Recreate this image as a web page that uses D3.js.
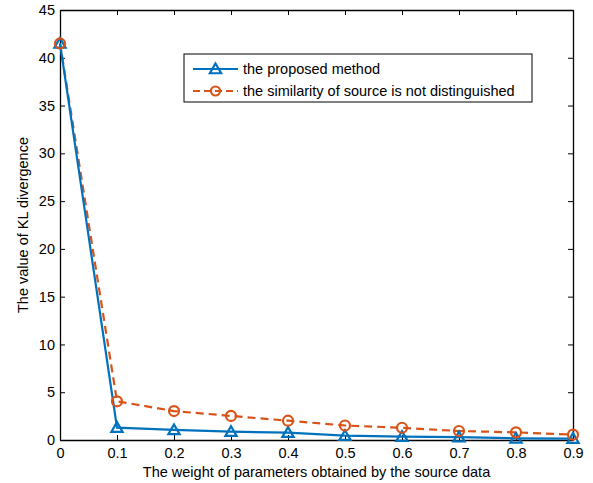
<!DOCTYPE html>
<html lang="en">
<head>
  <meta charset="utf-8">
  <title>KL divergence</title>
  <script src="https://cdn.jsdelivr.net/npm/d3@7"></script>
  <style type="text/css">
    body{ margin:0; background:#fff; }
    text{ font-family: "Liberation Sans", Arial, sans-serif; fill:#000; }
  </style>
</head>
<body>
  <script type="text/javascript">

    var width = 593;
    var height = 483;

    // data
    var weights = [0, 0.1, 0.2, 0.3, 0.4, 0.5, 0.6, 0.7, 0.8, 0.9];
    var proposed = [41.5, 1.3, 1.05, 0.87, 0.77, 0.45, 0.35, 0.3, 0.18, 0.15];
    var notDistinguished = [41.5, 4.05, 3.03, 2.52, 2.02, 1.52, 1.28, 0.94, 0.8, 0.56];
    var xTicks = [0, 0.1, 0.2, 0.3, 0.4, 0.5, 0.6, 0.7, 0.8, 0.9];
    var yTicks = [0, 5, 10, 15, 20, 25, 30, 35, 40, 45];
    var seriesNames = ["the proposed method", "the similarity of source is not distinguished"];

    // plot box (named so they don't clash with window.top)
    var plotLeft = 60, plotRight = 573, plotTop = 10, plotBottom = 440;
    var blue = "#0072BD", orange = "#D95319";

    var svg = d3.select("body")
            .append("svg")
            .attr("width", width)
            .attr("height", height);

    var xScale = d3.scaleLinear().domain([0, 0.9]).range([plotLeft, plotRight]);
    var yScale = d3.scaleLinear().domain([0, 45]).range([plotBottom, plotTop]);

    // axes with inward ticks, mirrored on top and right
    var tickLen = 5;
    svg.append("g")
        .attr("transform", "translate(0," + plotBottom + ")")
        .call(d3.axisBottom(xScale).tickValues(xTicks).tickSizeInner(-tickLen).tickSizeOuter(0).tickPadding(8)
            .tickFormat(function(d){ return d === 0 ? "0" : d3.format(".1f")(d); }))
        .call(styleAxis);
    svg.append("g")
        .attr("transform", "translate(" + plotLeft + ",0)")
        .call(d3.axisLeft(yScale).tickValues(yTicks).tickSizeInner(-tickLen).tickSizeOuter(0).tickPadding(5))
        .call(styleAxis);
    svg.append("g")
        .attr("transform", "translate(0," + plotTop + ")")
        .call(d3.axisTop(xScale).tickValues(xTicks).tickSizeInner(-tickLen).tickSizeOuter(0).tickFormat(""))
        .call(styleAxis);
    svg.append("g")
        .attr("transform", "translate(" + plotRight + ",0)")
        .call(d3.axisRight(yScale).tickValues(yTicks).tickSizeInner(-tickLen).tickSizeOuter(0).tickFormat(""))
        .call(styleAxis);

    function styleAxis(g){
        g.select(".domain").attr("stroke", "#000").attr("stroke-width", 1.3);
        g.selectAll(".tick line").attr("stroke", "#000").attr("stroke-width", 1);
        g.selectAll(".tick text").attr("font-size", 14.5).attr("fill", "#000")
            .attr("font-family", "Liberation Sans, Arial, sans-serif");
    }

    // axis titles
    svg.append("text")
        .attr("x", (plotLeft + plotRight) / 2)
        .attr("y", 477)
        .attr("text-anchor", "middle")
        .attr("font-size", 14.5)
        .text("The weight of parameters obtained by the source data");
    svg.append("text")
        .attr("transform", "translate(28," + ((plotTop + plotBottom) / 2) + ") rotate(-90)")
        .attr("text-anchor", "middle")
        .attr("font-size", 14.5)
        .text("The value of KL divergence");

    var line = d3.line()
        .x(function(d, i){ return xScale(weights[i]); })
        .y(function(d){ return yScale(d); });

    // orange dashed series
    svg.append("path")
        .datum(notDistinguished)
        .attr("d", line)
        .attr("fill", "none")
        .attr("stroke", orange)
        .attr("stroke-width", 2.2)
        .attr("stroke-dasharray", "8,5");
    // blue solid series
    svg.append("path")
        .datum(proposed)
        .attr("d", line)
        .attr("fill", "none")
        .attr("stroke", blue)
        .attr("stroke-width", 2.2);

    var tri = d3.symbol().type(d3.symbolTriangle).size(55);

    svg.selectAll(".tri")
        .data(proposed)
        .enter()
        .append("path")
        .attr("class", "tri")
        .attr("d", tri)
        .attr("transform", function(d, i){ return "translate(" + xScale(weights[i]) + "," + (yScale(d) + 1) + ")"; })
        .attr("fill", "none")
        .attr("stroke", blue)
        .attr("stroke-width", 2.2);

    svg.selectAll(".circ")
        .data(notDistinguished)
        .enter()
        .append("circle")
        .attr("class", "circ")
        .attr("cx", function(d, i){ return xScale(weights[i]); })
        .attr("cy", function(d){ return yScale(d); })
        .attr("r", 5)
        .attr("fill", "none")
        .attr("stroke", orange)
        .attr("stroke-width", 2.2);

    // legend
    var lg = svg.append("g");
    lg.append("rect")
        .attr("x", 184).attr("y", 54)
        .attr("width", 348).attr("height", 48)
        .attr("fill", "#fff")
        .attr("stroke", "#000")
        .attr("stroke-width", 1);
    lg.append("line")
        .attr("x1", 193).attr("x2", 238).attr("y1", 69).attr("y2", 69)
        .attr("stroke", blue).attr("stroke-width", 2.2);
    lg.append("path")
        .attr("d", tri)
        .attr("transform", "translate(215.5,70)")
        .attr("fill", "none").attr("stroke", blue).attr("stroke-width", 2.2);
    lg.append("line")
        .attr("x1", 193).attr("x2", 238).attr("y1", 91).attr("y2", 91)
        .attr("stroke", orange).attr("stroke-width", 2.2)
        .attr("stroke-dasharray", "7,4");
    lg.append("circle")
        .attr("cx", 215.5).attr("cy", 91).attr("r", 4.5)
        .attr("fill", "none").attr("stroke", orange).attr("stroke-width", 2.2);
    lg.selectAll(".lgtext")
        .data(seriesNames)
        .enter()
        .append("text")
        .attr("class", "lgtext")
        .attr("x", 243)
        .attr("y", function(d, i){ return 74 + i * 22; })
        .attr("font-size", 14.5)
        .text(function(d){ return d; });

  </script>
</body>
</html>
